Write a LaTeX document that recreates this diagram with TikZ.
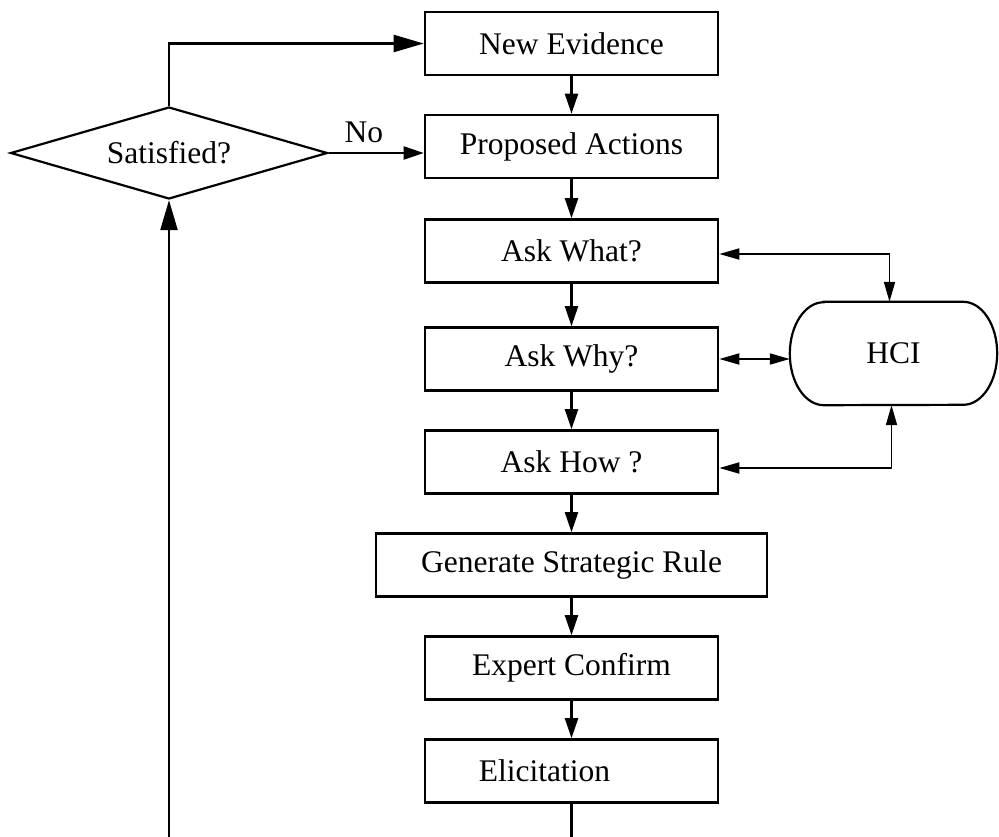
\documentclass[tikz,border=0pt]{standalone}
\usepackage{fontspec}
\setmainfont{Liberation Serif}
\usetikzlibrary{arrows.meta,shapes.geometric}
\begin{document}
\begin{tikzpicture}[x=1pt,y=-1pt,
  every node/.style={font=\fontsize{31.5}{36}\selectfont},
  stepbox/.style={draw, line width=2.6pt, minimum width=293pt, minimum height=63pt, inner sep=0pt},
  widebox/.style={stepbox, minimum width=391pt},
  decision/.style={draw, shape=diamond, aspect=3.45, line width=2.2pt,
    minimum width=317pt, minimum height=92pt, inner sep=0pt},
  flow/.style={line width=2.2pt, -{Triangle[length=20pt,width=13pt]}},
  bigflow/.style={line width=2.2pt, -{Triangle[length=30pt,width=17pt]}},
  plain/.style={line width=2.2pt},
  link/.style={line width=1.8pt, {Triangle[length=20pt,width=11pt]}-{Triangle[length=20pt,width=11pt]}},
  border/.style={line width=2.2pt}
]
\useasboundingbox (0,0) rectangle (999,836);

% main column of steps
\node[stepbox] (ne)   at (571.5,43.5) {New Evidence};
\node[stepbox] (pa)   at (571.5,146.5) {Proposed Actions};
\node[stepbox] (aw)   at (571.5,251) {Ask What?};
\node[stepbox] (awhy) at (571.5,359) {Ask Why?};
\node[stepbox] (ah)   at (571.5,462) {Ask How ?};
\node[widebox] (gsr)  at (571.5,565) {Generate Strategic Rule};
\node[stepbox] (ec)   at (571.5,668) {Expert Confirm};
\node[stepbox] (el)   at (571.5,771) {Elicitation\hspace*{54pt}};

% decision
\node[decision] (sat) at (169,153) {Satisfied?};

% HCI terminal with elliptical ends
\node[minimum width=207pt, minimum height=103pt, inner sep=0pt] (hci) at (893.5,353.5) {HCI};
\draw[border] ([xshift=34pt]hci.north west) -- ([xshift=-34pt]hci.north east)
  arc[start angle=90, end angle=-90, x radius=34pt, y radius=51.5pt]
  -- ([xshift=34pt]hci.south west)
  arc[start angle=-90, end angle=-270, x radius=34pt, y radius=51.5pt] -- cycle;

% flow through the column
\draw[flow] (ne) -- (pa);
\draw[flow] (pa) -- (aw);
\draw[flow] (aw) -- (awhy);
\draw[flow] (awhy) -- (ah);
\draw[flow] (ah) -- (gsr);
\draw[flow] (gsr) -- (ec);
\draw[flow] (ec) -- (el);

% decision outcomes
\draw[bigflow] (sat.north) |- (ne.west);
\draw[flow] (sat.east) -- node[above=6pt, pos=0.37] {No} (sat.east -| pa.west);

% feedback loop back to the decision
\path (el.south) ++(0,33) coordinate (loopR);
\coordinate (loopL) at (sat.south |- loopR);
\draw[plain] (el.south) -- (loopR);
\draw[bigflow] (loopL) -- (sat.south);

% HCI links
\draw[link] ([yshift=-3pt]aw.east) -| ([xshift=-4pt]hci.north);
\draw[link] (awhy.east) -- (awhy.east -| hci.west);
\draw[link] ([yshift=-6pt]ah.east) -| ([xshift=-2pt]hci.south);
\end{tikzpicture}
\end{document}
